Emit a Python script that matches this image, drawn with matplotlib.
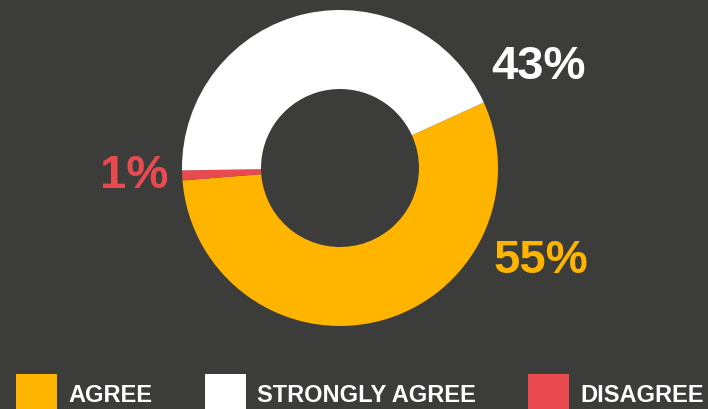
import matplotlib
matplotlib.use("Agg")
import matplotlib.pyplot as plt
from matplotlib.patches import Rectangle

categories = ["AGREE", "STRONGLY AGREE", "DISAGREE"]
values = [55, 43, 1]
colors = ["#FFB400", "#FFFFFF", "#E84A50"]
bg = "#3C3C3B"

W, H = 708, 409
fig = plt.figure(figsize=(W / 100, H / 100), dpi=100, facecolor=bg)
ax = fig.add_axes([0, 0, 1, 1])
ax.set_facecolor(bg)

# draw order: agree, disagree, strongly agree (clockwise)
order = [0, 2, 1]
cx, cy, R = 340, H - 168, 158
ax.pie([values[i] for i in order], colors=[colors[i] for i in order],
       startangle=24.5, counterclock=False, radius=R, center=(cx, cy),
       wedgeprops=dict(width=R * 0.5, linewidth=0), frame=False)
ax.set_xlim(0, W)
ax.set_ylim(0, H)
ax.set_aspect("equal")
ax.axis("off")

font = ["Liberation Sans", "DejaVu Sans"]
label_pos = {0: (541, H - 261), 1: (538, H - 67), 2: (134, H - 176)}
for i, v in enumerate(values):
    x, y = label_pos[i]
    ax.text(x, y, f"{v}%", color=colors[i], fontsize=34, fontweight="bold",
            family=font, ha="center", va="center")

# legend
sq_x = [16, 205, 528]
for i, name in enumerate(categories):
    ax.add_patch(Rectangle((sq_x[i], 0), 41, H - 374, color=colors[i], lw=0))
    ax.text(sq_x[i] + 52, H - 396, name, color="white", fontsize=17,
            fontweight="bold", family=font, ha="left", va="center")

fig.savefig("out.png", dpi=100, facecolor=bg)
